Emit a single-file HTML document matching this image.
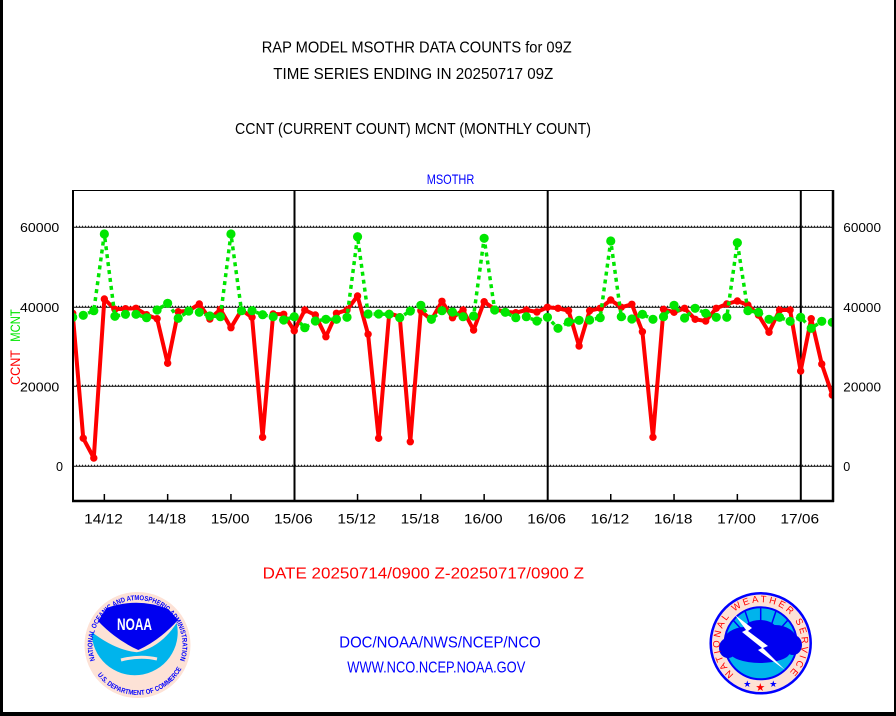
<!DOCTYPE html>
<html><head><meta charset="utf-8"><style>
html,body{margin:0;padding:0;background:#fff;}
svg{display:block;}
text{font-family:"Liberation Sans",Arial,sans-serif;}
</style></head><body>
<svg width="896" height="716" viewBox="0 0 896 716" xmlns="http://www.w3.org/2000/svg">
<defs>
<marker id="rm" markerUnits="userSpaceOnUse" markerWidth="10" markerHeight="10" refX="5" refY="5" viewBox="0 0 10 10" overflow="visible"><circle cx="5" cy="5" r="3.7" fill="#ff0000"/></marker>
<marker id="gm" markerUnits="userSpaceOnUse" markerWidth="12" markerHeight="12" refX="6" refY="6" viewBox="0 0 12 12" overflow="visible"><circle cx="6" cy="6" r="4.6" fill="#00e600"/></marker>
<path id="noaaTop" d="M 96.7,664 A 45 45 0 1 1 178.3,664"/>
<path id="noaaBot" d="M 94.2,670 A 50 50 0 0 0 180.8,670"/>
<path id="nwsTxt" d="M 735.5,675.6 A 41 41 0 1 1 787.6,674.2"/>
<clipPath id="plotclip"><rect x="73" y="190" width="760" height="311"/></clipPath>
</defs>
<rect width="896" height="716" fill="#fff"/>
<!-- frame -->
<rect x="0" y="0" width="3" height="716" fill="#000"/>
<rect x="894" y="0" width="2" height="716" fill="#000"/>
<rect x="0" y="712" width="896" height="4" fill="#000"/>

<!-- titles -->
<text x="261.7" y="52.7" font-size="15.5" textLength="310" lengthAdjust="spacingAndGlyphs" fill="#000">RAP MODEL MSOTHR DATA COUNTS for 09Z</text>
<text x="273.3" y="79" font-size="15.5" textLength="280" lengthAdjust="spacingAndGlyphs" fill="#000">TIME SERIES ENDING IN 20250717 09Z</text>
<text x="235" y="134" font-size="15.5" textLength="356" lengthAdjust="spacingAndGlyphs" fill="#000">CCNT (CURRENT COUNT) MCNT (MONTHLY COUNT)</text>
<text x="426.7" y="184" font-size="14" textLength="47.6" lengthAdjust="spacingAndGlyphs" fill="#0000ff">MSOTHR</text>

<!-- gridlines -->
<g stroke="#000">
<line x1="73" y1="227.2" x2="833" y2="227.2" stroke-width="1"/>
<line x1="73" y1="226.2" x2="833" y2="226.2" stroke-width="1" stroke-dasharray="1 2"/>
<line x1="73" y1="307.2" x2="833" y2="307.2" stroke-width="1"/>
<line x1="73" y1="306.2" x2="833" y2="306.2" stroke-width="1" stroke-dasharray="1 2"/>
<line x1="73" y1="386.2" x2="833" y2="386.2" stroke-width="1"/>
<line x1="73" y1="385.2" x2="833" y2="385.2" stroke-width="1" stroke-dasharray="1 2"/>
<line x1="73" y1="466.2" x2="833" y2="466.2" stroke-width="1"/>
<line x1="73" y1="465.2" x2="833" y2="465.2" stroke-width="1" stroke-dasharray="1 2"/>
</g>
<!-- vertical day lines -->
<g stroke="#000" stroke-width="2">
<line x1="294.5" y1="190" x2="294.5" y2="501"/>
<line x1="547.7" y1="190" x2="547.7" y2="501"/>
<line x1="800.8" y1="190" x2="800.8" y2="501"/>
</g>
<!-- ticks -->
<g stroke="#000" stroke-width="1.5">
<line x1="104.35" y1="494" x2="104.35" y2="501"/>
<line x1="167.65" y1="494" x2="167.65" y2="501"/>
<line x1="230.95" y1="494" x2="230.95" y2="501"/>
<line x1="357.55" y1="494" x2="357.55" y2="501"/>
<line x1="420.85" y1="494" x2="420.85" y2="501"/>
<line x1="484.15" y1="494" x2="484.15" y2="501"/>
<line x1="610.75" y1="494" x2="610.75" y2="501"/>
<line x1="674.05" y1="494" x2="674.05" y2="501"/>
<line x1="737.35" y1="494" x2="737.35" y2="501"/>
</g>

<!-- series -->
<g clip-path="url(#plotclip)">
<polyline fill="none" stroke="#ff0000" stroke-width="4" stroke-linejoin="round" marker-start="url(#rm)" marker-mid="url(#rm)" marker-end="url(#rm)" points="72.7,313.3 83.25,438.3 93.8,458 104.35,299 114.9,309.3 125.45,308.7 136,308.3 146.55,314.7 157.1,318.7 167.65,363.3 178.2,311.7 188.75,310.7 199.3,304 209.85,319 220.4,309.3 230.95,327.7 241.5,310 252.05,317.3 262.6,437.3 273.15,314 283.7,314.3 294.25,330.7 304.8,310 315.35,315 325.9,336.7 336.45,313.3 347,310 357.55,296 368.1,334.3 378.65,438.3 389.2,313.3 399.75,316.7 410.3,441.7 420.85,310.7 431.4,320 441.95,301.3 452.5,317.7 463.05,310 473.6,330 484.15,301.7 494.7,309.3 505.25,311.7 515.8,312.7 526.35,310 536.9,312 547.45,307.3 558,308.3 568.55,310.7 579.1,346 589.65,310.7 600.2,308.3 610.75,300 621.3,307.3 631.85,304.3 642.4,331.7 652.95,437.3 663.5,309.3 674.05,312.3 684.6,308.3 695.15,319.3 705.7,321 716.25,308.3 726.8,304 737.35,301 747.9,305 758.45,315 769,332.3 779.55,310 790.1,310 800.65,371 811.2,318.7 821.75,364 832.3,395"/>
<polyline fill="none" stroke="#00e600" stroke-width="3.5" stroke-dasharray="4 4" marker-start="url(#gm)" marker-mid="url(#gm)" marker-end="url(#gm)" points="72.7,317.3 83.25,315.3 93.8,310.7 104.35,234 114.9,316.3 125.45,314.3 136,314.3 146.55,317.7 157.1,310 167.65,303.3 178.2,318.3 188.75,311 199.3,312.3 209.85,316 220.4,316.7 230.95,234 241.5,310.7 252.05,310.7 262.6,314.7 273.15,316.7 283.7,320 294.25,316.7 304.8,327.7 315.35,321 325.9,319.3 336.45,319.3 347,317.3 357.55,236.7 368.1,314 378.65,314 389.2,314.3 399.75,317.7 410.3,311 420.85,305.3 431.4,319.3 441.95,310.7 452.5,312 463.05,316.7 473.6,316 484.15,238.3 494.7,310 505.25,312.3 515.8,317.7 526.35,316.7 536.9,321 547.45,317.3 558,328.3 568.55,322 579.1,320.3 589.65,320 600.2,317.7 610.75,241 621.3,316.7 631.85,319 642.4,314.3 652.95,319.3 663.5,316.7 674.05,305.3 684.6,318 695.15,308.3 705.7,313.3 716.25,317.3 726.8,317.3 737.35,242.7 747.9,310.7 758.45,312.3 769,319.3 779.55,317.3 790.1,321.3 800.65,317.3 811.2,328.3 821.75,321.3 832.3,322.3"/>
</g>

<!-- axes frame -->
<rect x="73" y="190.5" width="760" height="310" fill="none" stroke="#000" stroke-width="1"/>
<line x1="73" y1="190" x2="73" y2="502" stroke="#000" stroke-width="2"/>
<line x1="833" y1="190" x2="833" y2="502" stroke="#000" stroke-width="2.5"/>
<line x1="72" y1="501" x2="834" y2="501" stroke="#000" stroke-width="2.5"/>

<!-- y tick labels -->
<g font-size="13" fill="#000">
<text x="20" y="232" textLength="39.3" lengthAdjust="spacingAndGlyphs">60000</text>
<text x="20" y="312" textLength="39.3" lengthAdjust="spacingAndGlyphs">40000</text>
<text x="20" y="391.3" textLength="39.3" lengthAdjust="spacingAndGlyphs">20000</text>
<text x="56" y="471" textLength="7" lengthAdjust="spacingAndGlyphs">0</text>
<text x="843.3" y="232" textLength="37.7" lengthAdjust="spacingAndGlyphs">60000</text>
<text x="843.3" y="312" textLength="37.7" lengthAdjust="spacingAndGlyphs">40000</text>
<text x="843.3" y="391.3" textLength="37.7" lengthAdjust="spacingAndGlyphs">20000</text>
<text x="843.3" y="471" textLength="7" lengthAdjust="spacingAndGlyphs">0</text>
</g>
<!-- x tick labels -->
<g font-size="13.5" fill="#000" text-anchor="middle">
<text x="103.5" y="523.3" textLength="38.7" lengthAdjust="spacingAndGlyphs">14/12</text>
<text x="166.8" y="523.3" textLength="38.7" lengthAdjust="spacingAndGlyphs">14/18</text>
<text x="230.1" y="523.3" textLength="38.7" lengthAdjust="spacingAndGlyphs">15/00</text>
<text x="293.4" y="523.3" textLength="38.7" lengthAdjust="spacingAndGlyphs">15/06</text>
<text x="356.7" y="523.3" textLength="38.7" lengthAdjust="spacingAndGlyphs">15/12</text>
<text x="420" y="523.3" textLength="38.7" lengthAdjust="spacingAndGlyphs">15/18</text>
<text x="483.3" y="523.3" textLength="38.7" lengthAdjust="spacingAndGlyphs">16/00</text>
<text x="546.6" y="523.3" textLength="38.7" lengthAdjust="spacingAndGlyphs">16/06</text>
<text x="609.9" y="523.3" textLength="38.7" lengthAdjust="spacingAndGlyphs">16/12</text>
<text x="673.2" y="523.3" textLength="38.7" lengthAdjust="spacingAndGlyphs">16/18</text>
<text x="736.5" y="523.3" textLength="38.7" lengthAdjust="spacingAndGlyphs">17/00</text>
<text x="799.8" y="523.3" textLength="38.7" lengthAdjust="spacingAndGlyphs">17/06</text>
</g>
<!-- y axis label -->
<text transform="translate(20,385) rotate(-90)" x="0" y="0" font-size="14" fill="#ff0000" textLength="35" lengthAdjust="spacingAndGlyphs">CCNT</text>
<text transform="translate(20,341.7) rotate(-90)" x="0" y="0" font-size="14" fill="#00e600" textLength="32.4" lengthAdjust="spacingAndGlyphs">MCNT</text>

<!-- bottom texts -->
<text x="262.7" y="578.3" font-size="15.5" fill="#ff0000" textLength="321.3" lengthAdjust="spacingAndGlyphs">DATE 20250714/0900 Z-20250717/0900 Z</text>
<text x="339.3" y="647.3" font-size="16" fill="#0000ff" textLength="201.4" lengthAdjust="spacingAndGlyphs">DOC/NOAA/NWS/NCEP/NCO</text>
<text x="347.3" y="672.7" font-size="15.5" fill="#0000ff" textLength="178" lengthAdjust="spacingAndGlyphs">WWW.NCO.NCEP.NOAA.GOV</text>

<!-- NOAA logo -->
<circle cx="137.5" cy="645" r="53" fill="#fde2d6"/>
<path d="M 106.7,608 Q 137.5,597 168.3,609 L 178,620 Q 160,640 138.3,650 Q 116,640 98,621 Z" fill="#0000f0"/>
<path d="M 91.7,632 Q 115,650 136.7,652.3 Q 160,648 176.7,623 A 43 43 0 1 1 91.7,632 Z" fill="#00b4ec"/>
<path d="M 121,660 Q 140,655 157,659" stroke="#fde2d6" stroke-width="3" fill="none"/>
<text x="117" y="630" font-size="17" font-weight="bold" fill="#fff" textLength="35" lengthAdjust="spacingAndGlyphs">NOAA</text>
<text font-size="7" font-weight="bold" fill="#0000ff"><textPath href="#noaaTop" startOffset="4" textLength="172" lengthAdjust="spacingAndGlyphs">NATIONAL OCEANIC AND ATMOSPHERIC ADMINISTRATION</textPath></text>
<text font-size="7" font-weight="bold" fill="#0000ff"><textPath href="#noaaBot" startOffset="6" textLength="100" lengthAdjust="spacingAndGlyphs">U.S. DEPARTMENT OF COMMERCE</textPath></text>

<!-- NWS logo -->
<circle cx="760.7" cy="643.3" r="50" fill="#fde2d6" stroke="#0000ff" stroke-width="2.5"/>
<circle cx="760.7" cy="643.3" r="36" fill="#00b4ec" stroke="#0000ff" stroke-width="2"/>
<g stroke="#0000ff" stroke-width="1.5">
<line x1="760.7" y1="607.3" x2="760.7" y2="625"/>
<line x1="745" y1="611" x2="750" y2="626"/>
<line x1="776" y1="611" x2="771" y2="626"/>
<line x1="733" y1="620" x2="742" y2="630"/>
<line x1="788" y1="620" x2="779" y2="630"/>
</g>
<g fill="#0000f0">
<ellipse cx="745" cy="643" rx="22" ry="16"/>
<ellipse cx="775" cy="641" rx="22" ry="16"/>
<ellipse cx="760" cy="632" rx="18" ry="12"/>
<ellipse cx="760" cy="652" rx="30" ry="11"/>
<ellipse cx="728" cy="648" rx="9" ry="10"/>
<ellipse cx="793" cy="645" rx="9" ry="10"/>
</g>
<path d="M 735,615 L 752,628 L 748,631 L 768,646 L 763,648 L 785,670 L 758,650 L 762,648 L 742,632 L 746,630 Z" fill="#fff"/>
<text font-size="9.5" fill="#ff0000"><textPath href="#nwsTxt" startOffset="2" textLength="196" lengthAdjust="spacing">NATIONAL WEATHER SERVICE</textPath></text>
<text x="747.3" y="687" font-size="9" fill="#0000ff" text-anchor="middle">★</text>
<text x="773.3" y="687" font-size="9" fill="#0000ff" text-anchor="middle">★</text>
<text x="760.3" y="691" font-size="11" fill="#ff0000" text-anchor="middle">★</text>
</svg>
</body></html>
